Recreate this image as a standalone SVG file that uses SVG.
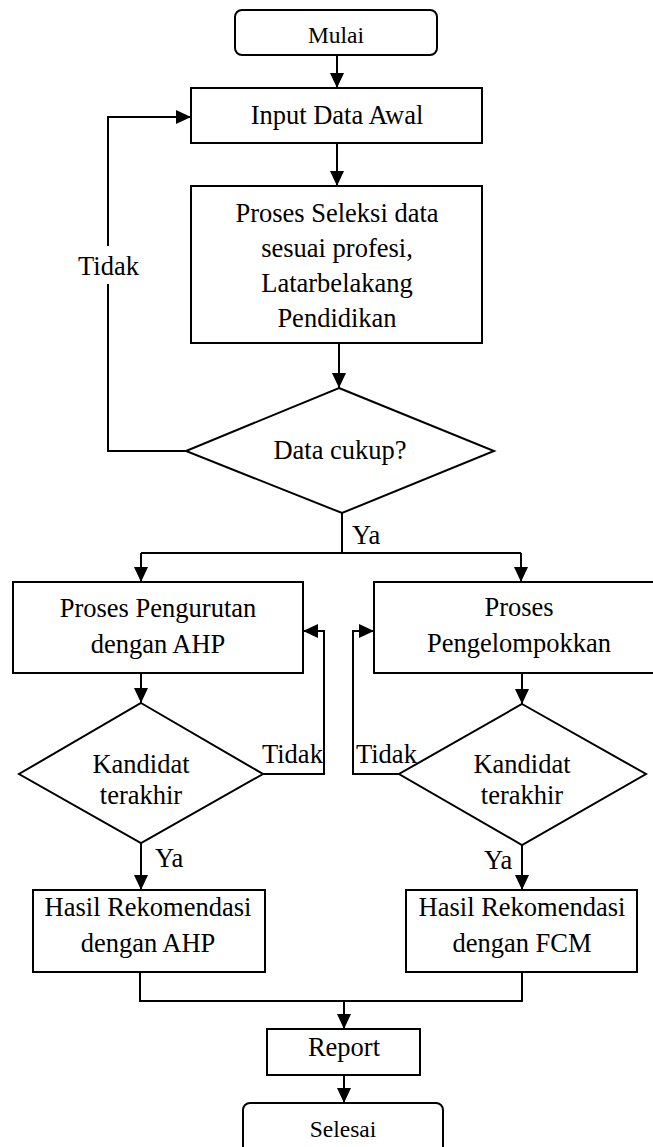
<svg xmlns="http://www.w3.org/2000/svg" width="653" height="1147" viewBox="0 0 653 1147">
<style>
.box{fill:#fff;stroke:#000;stroke-width:2}
.ln{fill:none;stroke:#000;stroke-width:2}
text{fill:#000;font-size:26.5px;text-anchor:middle}
.sm{font-size:23.5px}
.lbl{text-anchor:start}
</style>
<defs>
<marker id="ah" markerUnits="userSpaceOnUse" markerWidth="15" markerHeight="14" viewBox="0 0 15 14" refX="15" refY="7" orient="auto">
<path d="M0 0 L15 7 L0 14 Z" fill="#000"/>
</marker>
</defs>
<rect width="653" height="1147" fill="#fff"/>
<g font-family="Liberation Serif, Times New Roman, DejaVu Serif, serif">
<g id="connectors">
<path class="ln" d="M337 56 L337 88" marker-end="url(#ah)"/>
<path class="ln" d="M337 143 L337 186" marker-end="url(#ah)"/>
<path class="ln" d="M339 343 L339 388" marker-end="url(#ah)"/>
<path class="ln" d="M186 451 L108 451 L108 284"/>
<path class="ln" d="M108 246 L108 117 L191 117" marker-end="url(#ah)"/>
<path class="ln" d="M342 513 L342 553"/>
<path class="ln" d="M141 553 L521 553"/>
<path class="ln" d="M141 553 L141 582" marker-end="url(#ah)"/>
<path class="ln" d="M521 553 L521 582" marker-end="url(#ah)"/>
<path class="ln" d="M141 673 L141 703" marker-end="url(#ah)"/>
<path class="ln" d="M522 673 L522 704" marker-end="url(#ah)"/>
<path class="ln" d="M263 774 L324 774 L324 631 L303 631" marker-end="url(#ah)"/>
<path class="ln" d="M399 774 L353 774 L353 631 L374 631" marker-end="url(#ah)"/>
<path class="ln" d="M141 843 L141 890" marker-end="url(#ah)"/>
<path class="ln" d="M522 845 L522 890" marker-end="url(#ah)"/>
<path class="ln" d="M140 972 L140 1001 L522 1001 L522 972"/>
<path class="ln" d="M344 1001 L344 1029" marker-end="url(#ah)"/>
<path class="ln" d="M344 1075 L344 1103" marker-end="url(#ah)"/>
<text x="108.5" y="275">Tidak</text>
<text class="lbl" x="352" y="544">Ya</text>
<text class="lbl" x="262" y="763">Tidak</text>
<text class="lbl" x="356" y="763">Tidak</text>
<text class="lbl" x="155" y="867">Ya</text>
<text class="lbl" x="484" y="869">Ya</text>
</g>
<g id="mulai">
<rect class="box" x="235" y="10" width="202" height="45" rx="7"/>
<text class="sm" x="336" y="43">Mulai</text>
</g>
<g id="input">
<rect class="box" x="191" y="88" width="291" height="55"/>
<text x="337" y="124">Input Data Awal</text>
</g>
<g id="seleksi">
<rect class="box" x="191" y="186" width="291" height="157"/>
<text x="337" y="222">Proses Seleksi data</text>
<text x="337" y="257">sesuai profesi,</text>
<text x="337" y="292">Latarbelakang</text>
<text x="337" y="327">Pendidikan</text>
</g>
<g id="cukup">
<polygon class="box" points="339,388 494,451 342,513 186,451"/>
<text x="340" y="459">Data cukup?</text>
</g>
<g id="pengurutan">
<rect class="box" x="13" y="582" width="290" height="91"/>
<text x="158" y="617">Proses Pengurutan</text>
<text x="158" y="653">dengan AHP</text>
</g>
<g id="pengelompokkan">
<rect class="box" x="374" y="582" width="290" height="91"/>
<text x="519" y="616">Proses</text>
<text x="519" y="652">Pengelompokkan</text>
</g>
<g id="kandidat1">
<polygon class="box" points="141,703 263,774 141,843 19,774"/>
<text x="141" y="773">Kandidat</text>
<text x="141" y="804">terakhir</text>
</g>
<g id="kandidat2">
<polygon class="box" points="522,704 646,774 522,845 399,774"/>
<text x="522" y="773">Kandidat</text>
<text x="522" y="804">terakhir</text>
</g>
<g id="hasil-ahp">
<rect class="box" x="33" y="890" width="232" height="82"/>
<text x="148" y="916">Hasil Rekomendasi</text>
<text x="148" y="952">dengan AHP</text>
</g>
<g id="hasil-fcm">
<rect class="box" x="406" y="890" width="231" height="82"/>
<text x="522" y="916">Hasil Rekomendasi</text>
<text x="522" y="952">dengan FCM</text>
</g>
<g id="report">
<rect class="box" x="267" y="1029" width="153" height="46"/>
<text x="344" y="1056">Report</text>
</g>
<g id="selesai">
<rect class="box" x="243" y="1103" width="200" height="60" rx="7"/>
<text class="sm" x="343" y="1137">Selesai</text>
</g>
</g>
</svg>
